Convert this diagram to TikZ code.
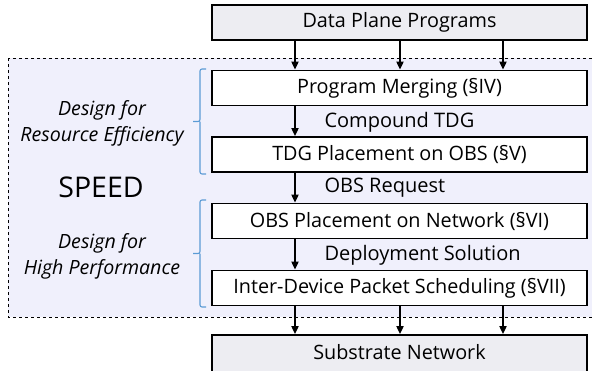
\documentclass[tikz,border=0pt]{standalone}
\usepackage{fontspec}
\setmainfont{Open Sans}
\usetikzlibrary{arrows.meta}
\definecolor{regionfill}{HTML}{F0F0FC}
\definecolor{grayfill}{HTML}{EDEDF2}
\definecolor{bracecol}{HTML}{5B9BD5}
\tikzset{
  stagebox/.style={draw=black, line width=1.7pt, fill=white, minimum width=375pt, minimum height=35pt, inner sep=0pt, font=\fontsize{19.8}{22}\selectfont},
  endbox/.style={stagebox, fill=grayfill},
  flow/.style={line width=1.7pt, -{Triangle[length=8pt,width=7pt]}},
  braceline/.style={draw=bracecol, line width=1.1pt, rounded corners=2pt},
  sidelabel/.style={font=\fontsize{19.6}{26}\selectfont\itshape, align=center},
  flowlabel/.style={font=\fontsize{20}{22}\selectfont, anchor=west}
}
\begin{document}
\begin{tikzpicture}[x=1pt,y=-1pt]
\useasboundingbox (0,0) rectangle (592,370);
\draw[dashed, line width=0.9pt, fill=regionfill] (8,58) rectangle (596,317);
\node[endbox] (dpp) at (399.5,22.5) {Data Plane Programs};
\node[stagebox] (pm) at (399.5,88) {Program Merging (§IV)};
\node[stagebox] (tdg) at (399.5,154.5) {TDG Placement on OBS (§V)};
\node[stagebox] (obs) at (399.5,221) {OBS Placement on Network (§VI)};
\node[stagebox] (idps) at (399.5,288) {Inter-Device Packet Scheduling (§VII)};
\node[endbox, minimum height=40pt] (sub) at (399.5,355) {};
\node[font=\fontsize{19.8}{22}\selectfont] (subt) at (399.5,352.5) {Substrate Network};
% flow arrows
\foreach \x in {295,400,503}{
  \draw[flow] (dpp.south -| \x,0) -- (pm.north -| \x,0);
  \draw[flow] (idps.south -| \x,0) -- (sub.north -| \x,0);
}
\draw[flow] (pm.south -| 295,0) -- (tdg.north -| 295,0);
\draw[flow] (tdg.south -| 295,0) -- (obs.north -| 295,0);
\draw[flow] (obs.south -| 295,0) -- (idps.north -| 295,0);
\node[flowlabel] (l1) at (321,122) {Compound TDG};
\node[flowlabel] (l2) at (321,188) {OBS Request};
\node[flowlabel] (l3) at (321,255) {Deployment Solution};
% braces
\coordinate (b1t) at (206,69);
\coordinate (b1b) at (206,174);
\draw[braceline] (b1t) -- (200,69) -- (200,121.5) -- (193,121.5) (200,121.5) -- (200,174) -- (b1b);
\coordinate (b2t) at (206,200);
\coordinate (b2b) at (206,307);
\draw[braceline] (b2t) -- (200,200) -- (200,253.5) -- (193,253.5) (200,253.5) -- (200,307) -- (b2b);
% side labels
\node[sidelabel] (rese) at (102,123.5) {Design for\\Resource Efficiency};
\node[sidelabel] (hp) at (102,256.5) {Design for\\High Performance};
\node[font=\fontsize{28.5}{30}\selectfont] (speed) at (101,187) {SPEED};
\end{tikzpicture}
\end{document}
